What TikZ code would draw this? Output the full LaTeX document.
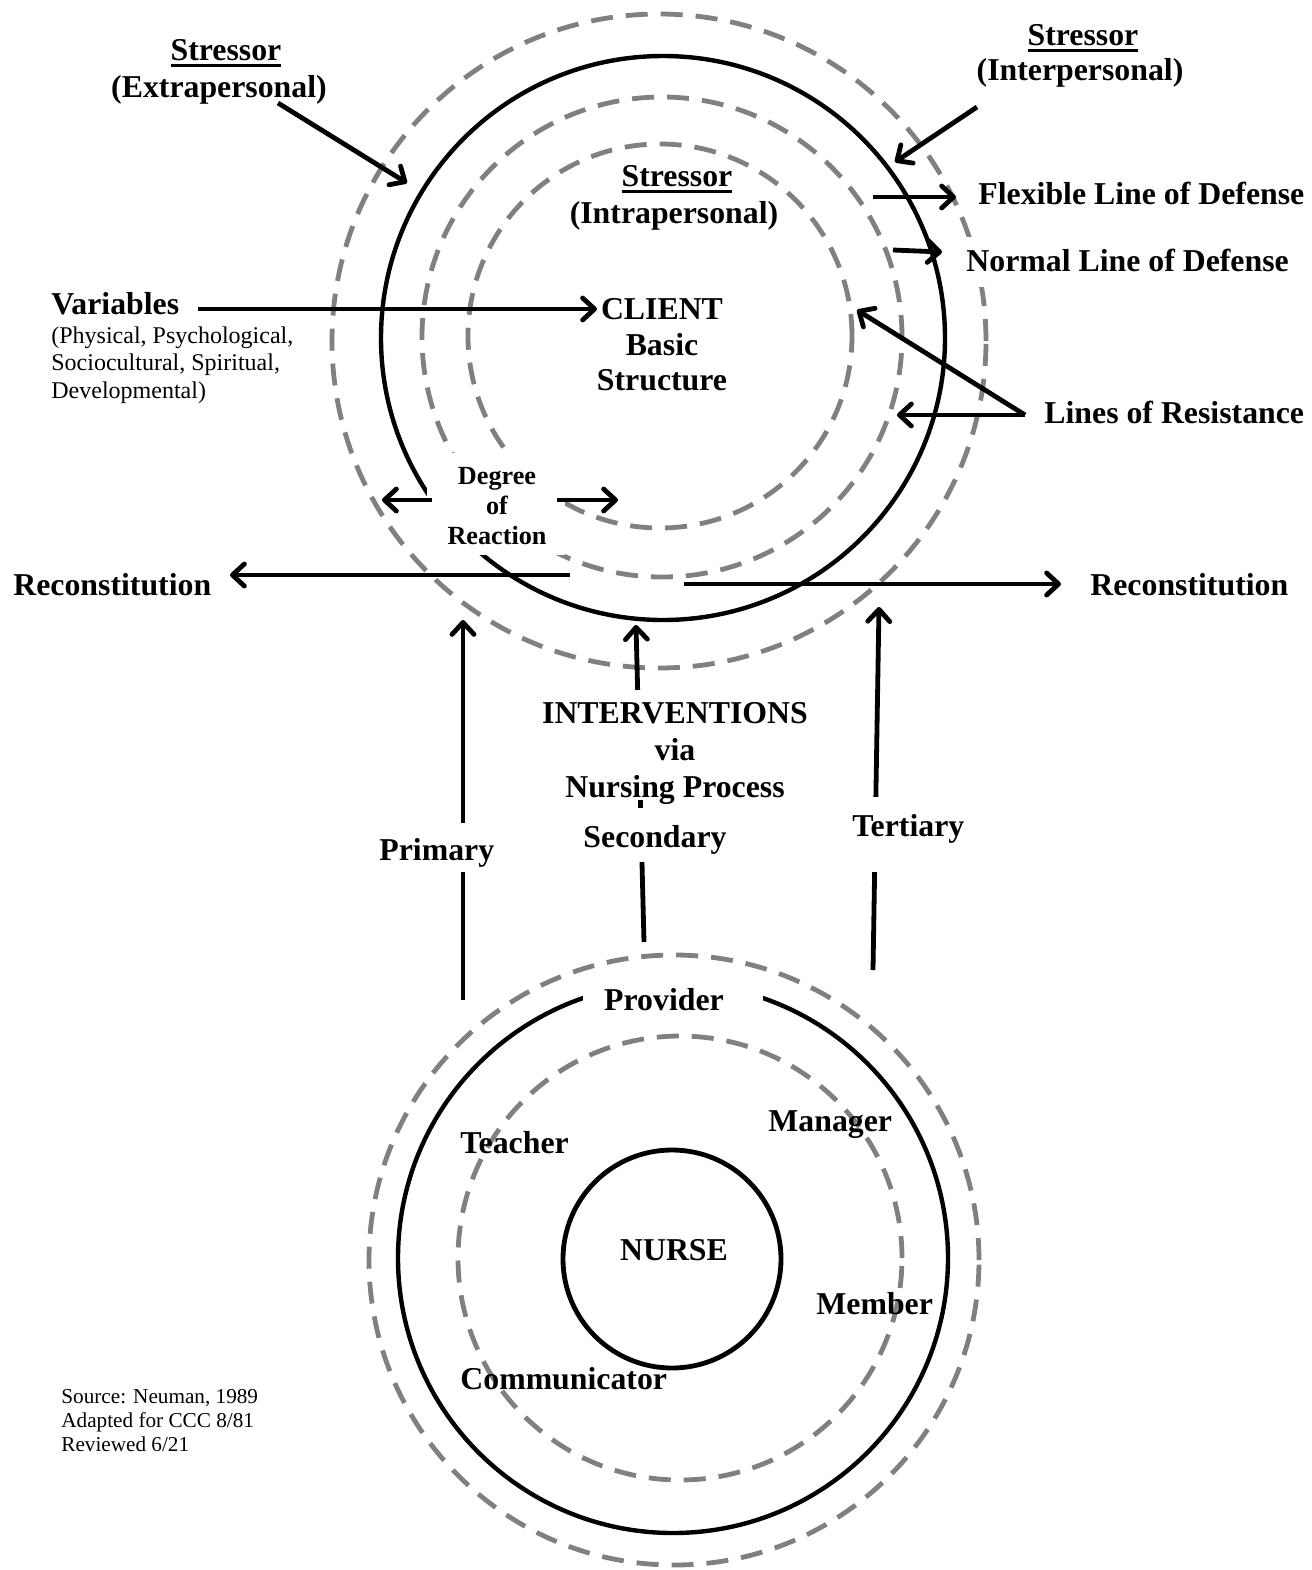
\documentclass[tikz,border=0pt]{standalone}
\usepackage{fontspec}
\setmainfont{Liberation Serif}
\usetikzlibrary{arrows.meta}
\definecolor{dashgray}{RGB}{128,128,128}
\newcommand\thickul[1]{\setbox0=\hbox{#1}\rlap{\rule[-3.4pt]{\wd0}{1.3pt}}\box0}
\begin{document}
\begin{tikzpicture}[x=0.5pt,y=-0.5pt,
  solidring/.style={line width=2.2pt},
  dashring/.style={line width=2.4pt, dashgray, dash pattern=on 11pt off 6.5pt},
  arr/.style={line width=2.4pt, -{Straight Barb[length=6pt,width=11pt,round]}},
  big/.style={font=\fontsize{15.9pt}{18.5pt}\selectfont\bfseries, inner sep=0pt},
  mid/.style={font=\fontsize{13.1pt}{15pt}\selectfont\bfseries, inner sep=0pt},
  small/.style={font=\fontsize{12pt}{14pt}\selectfont, inner sep=0pt},
  tiny/.style={font=\fontsize{10.6pt}{12pt}\selectfont, inner sep=0pt},
  mask/.style={fill=white, draw=none}]

\useasboundingbox (0,0) rectangle (1312,1570);
\fill[white] (0,0) rectangle (1312,1570);

% ---- client system rings
\draw[dashring] (659,341) circle[radius=163.5pt];
\draw[solidring] (663,338) circle[radius=141pt];
\draw[dashring] (662,337) circle[radius=120pt];
\draw[dashring] (660,336) circle[radius=96pt];

% ---- nurse rings
\draw[dashring] (674,1260) circle[radius=152.5pt];
\draw[solidring] (673,1258) circle[radius=137.5pt];
\draw[dashring] (680,1258) circle[radius=111pt];
\draw[line width=2.4pt] (672,1259) circle[radius=54.5pt];

% ---- intervention lines
\coordinate (priB) at (463,1000); \coordinate (priT) at (463,620);
\coordinate (secB) at (644,942);  \coordinate (secT) at (636,625);
\coordinate (terB) at (873,970);  \coordinate (terT) at (879,607);
\draw[arr] (priB) -- (priT);
\draw[arr] (secB) -- (secT);
\draw[arr] (terB) -- (terT);

% ---- white label backgrounds
\fill[mask] (427,453) rectangle (565,555);
\fill[mask] (947,237) rectangle (1307,287);
\fill[mask] (583,978) rectangle (763,1020);
\fill[mask] (526,690) rectangle (826,800);
\fill[mask] (362,823) rectangle (526,872);
\fill[mask] (600,808) rectangle (700,862);
\fill[mask] (840,797) rectangle (970,872);

% ---- other arrows
\coordinate (exS) at (278,103);  \coordinate (exT) at (407,183);
\coordinate (inS) at (977,107);  \coordinate (inT) at (895,162);
\coordinate (flS) at (873,197);  \coordinate (flT) at (956,197);
\coordinate (nlS) at (893,250);  \coordinate (nlT) at (942,252);
\coordinate (vaS) at (198,309);  \coordinate (vaT) at (597,309);
\coordinate (lrS) at (1025,415); \coordinate (lrT1) at (857,310); \coordinate (lrT2) at (897,415);
\coordinate (drLs) at (432,500); \coordinate (drL) at (382,500);
\coordinate (drRs) at (557,500); \coordinate (drR) at (618,500);
\coordinate (rcLs) at (570,575); \coordinate (rcL) at (230,575);
\coordinate (rcRs) at (684,584); \coordinate (rcR) at (1061,584);
\draw[arr] (exS) -- (exT);
\draw[arr] (inS) -- (inT);
\draw[arr] (flS) -- (flT);
\draw[arr] (nlS) -- (nlT);
\draw[arr] (vaS) -- (vaT);
\draw[arr] (lrS) -- (lrT1);
\draw[arr] (lrS) -- (lrT2);
\draw[arr] (drLs) -- (drL);
\draw[arr] (drRs) -- (drR);
\draw[arr] (rcLs) -- (rcL);
\draw[arr] (rcRs) -- (rcR);

% ---- texts
\node[big, anchor=base] (exA) at (226,60) {\thickul{Stressor}};
\node[big, anchor=base] (exB) at (219,97) {(Extrapersonal)};
\node[big, anchor=base] (inA) at (1083,45) {\thickul{Stressor}};
\node[big, anchor=base] (inB) at (1080,80) {(Interpersonal)};
\node[big, anchor=base] (itA) at (677,186) {\thickul{Stressor}};
\node[big, anchor=base] (itB) at (674,223) {(Intrapersonal)};
\node[big, anchor=base west] (flex) at (978,204) {Flexible Line of Defense};
\node[big, anchor=base west] (norm) at (966,271) {Normal Line of Defense};
\node[big, anchor=base west] (vars) at (51,314) {Variables};
\node[small, anchor=base west] (vl1) at (51,343) {(Physical, Psychological,};
\node[small, anchor=base west] (vl2) at (51,370) {Sociocultural, Spiritual,};
\node[small, anchor=base west] (vl3) at (51,398) {Developmental)};
\node[big, anchor=base] (cl1) at (662,319) {CLIENT};
\node[big, anchor=base] (cl2) at (662,355) {Basic};
\node[big, anchor=base] (cl3) at (662,390) {Structure};
\node[big, anchor=base west] (lor) at (1044,423) {Lines of Resistance};
\node[mid, anchor=base] (dg1) at (497,484) {Degree};
\node[mid, anchor=base] (dg2) at (497,514) {of};
\node[mid, anchor=base] (dg3) at (497,544) {Reaction};
\node[big, anchor=base west] (recL) at (13,595) {Reconstitution};
\node[big, anchor=base west] (recR) at (1090,595) {Reconstitution};
\node[big, anchor=base] (iv1) at (675,723) {INTERVENTIONS};
\node[big, anchor=base] (iv2) at (675,760) {via};
\node[big, anchor=base] (iv3) at (675,797) {Nursing Process};
\node[big, anchor=base] (sec) at (655,847) {Secondary};
\node[big, anchor=base west] (pri) at (379,860) {Primary};
\node[big, anchor=base west] (ter) at (852,836) {Tertiary};
\node[big, anchor=base] (prov) at (664,1010) {Provider};
\node[big, anchor=base west] (tea) at (460,1153) {Teacher};
\node[big, anchor=base west] (man) at (768,1131) {Manager};
\node[big, anchor=base] (nur) at (674,1260) {NURSE};
\node[big, anchor=base west] (mem) at (816,1314) {Member};
\node[big, anchor=base west] (com) at (460,1389) {Communicator};
\node[tiny, anchor=base west] (src1) at (61,1403) {Source: Neuman, 1989};
\node[tiny, anchor=base west] (src2) at (61,1427) {Adapted for CCC 8/81};
\node[tiny, anchor=base west] (src3) at (61,1451) {Reviewed 6/21};
\end{tikzpicture}
\end{document}
